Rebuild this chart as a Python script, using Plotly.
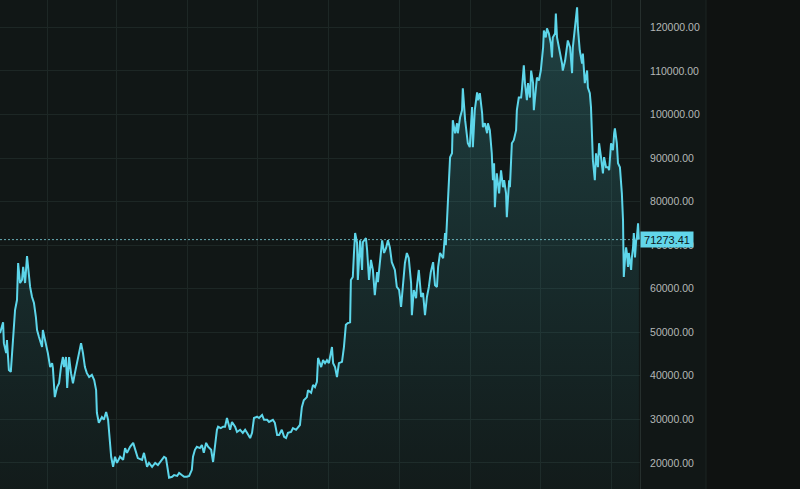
import pandas as pd
import plotly.graph_objects as go

# ---- data ----
start_date = "2021-09-01"
day_offsets = [
    0, 8, 10, 16, 18, 23, 28, 34, 39, 44,
    47, 52, 57, 60, 65, 70, 73, 78, 83, 88,
    93, 96, 101, 109, 111, 117, 122, 124, 130, 135,
    137, 142, 148, 153, 158, 163, 166, 171, 174, 179,
    184, 189, 194, 199, 205, 210, 215, 220, 225, 231,
    238, 244, 249, 251, 256, 264, 269, 275, 280, 285,
    288, 293, 298, 303, 311, 319, 324, 329, 337, 345,
    352, 357, 368, 373, 381, 386, 394, 402, 409, 420,
    425, 430, 435, 438, 446, 451, 459, 464, 471, 477,
    484, 490, 497, 500, 505, 510, 518, 523, 528, 534,
    539, 547, 552, 557, 562, 565, 572, 578, 583, 588,
    596, 601, 609, 614, 622, 629, 635, 640, 648, 653,
    658, 666, 671, 679, 684, 692, 697, 707, 712, 718,
    723, 730, 736, 741, 746, 754, 759, 767, 772, 777,
    782, 787, 795, 798, 806, 811, 816, 821, 824, 832,
    837, 842, 847, 852, 860, 863, 868, 873, 878, 886,
    891, 896, 901, 907, 909, 914, 917, 920, 925, 927,
    933, 938, 940, 948, 951, 956, 961, 966, 971, 977,
    979, 984, 990, 995, 1000, 1005, 1010, 1015, 1023, 1028,
    1034, 1039, 1044, 1049, 1054, 1059, 1065, 1067, 1072, 1078,
    1080, 1085, 1091, 1096, 1101, 1106, 1111, 1116, 1122, 1127,
    1132, 1135, 1140, 1148, 1153, 1155, 1158, 1160, 1166, 1171,
    1173, 1179, 1184, 1186, 1192, 1197, 1199, 1205, 1210, 1212,
    1217, 1223, 1225, 1230, 1236, 1238, 1243, 1249, 1251, 1256,
    1262, 1264, 1269, 1274, 1277, 1280, 1282, 1287, 1293, 1298,
    1303, 1306, 1311, 1313, 1319, 1321, 1326, 1331, 1337, 1339,
    1344, 1350, 1352, 1357, 1360, 1365, 1368, 1373, 1376, 1381,
    1383, 1388, 1391, 1396, 1401, 1407, 1409, 1414, 1417, 1422,
    1427, 1430, 1432, 1438, 1440, 1443, 1445, 1451, 1456, 1458,
    1464, 1469, 1471, 1477, 1482, 1484, 1490, 1495, 1497, 1502,
    1508, 1510, 1515, 1521, 1523, 1528, 1531, 1534, 1536, 1541,
    1544, 1549, 1552, 1557, 1562, 1565, 1570, 1575, 1578, 1583,
    1588, 1591, 1593, 1598, 1601, 1606, 1611, 1614, 1616, 1619,
    1622, 1624, 1627, 1629, 1635, 1637, 1640, 1642, 1645, 1648,
    1650, 1653, 1655,
]
prices = [
    49800, 52300, 47500, 45200, 48200, 41300, 40900, 48200, 55100, 57400,
    65900, 61300, 62000, 65000, 61300, 67500, 65000, 60400, 58100, 56700,
    53500, 50500, 48900, 46600, 50500, 48200, 46600, 45200, 42000, 42900,
    41800, 35100, 37400, 38300, 42000, 44300, 42000, 44300, 37200, 44300,
    40600, 38300, 40600, 42900, 45200, 47500, 45200, 42000, 40600, 39700,
    40200, 39000, 36700, 31500, 29200, 30500, 29900, 31700, 29900, 25300,
    21400, 19100, 21400, 20000, 21400, 20700, 23400, 22300, 23700, 24600,
    22300, 21100, 20700, 22300, 19100, 20000, 19100, 20000, 19500, 20700,
    21400, 21100, 17700, 16600, 16800, 17200, 17000, 17700, 17200, 16800,
    16800, 17000, 18400, 21400, 23000, 23700, 23400, 24100, 22300, 24600,
    23700, 23000, 20200, 23700, 27600, 28300, 28000, 28300, 28300, 30300,
    27600, 29400, 28300, 27100, 27600, 26900, 27600, 26900, 25700, 26900,
    30300, 30600, 30300, 31000, 29900, 29900, 29400, 29900, 29200, 26400,
    26400, 27600, 26000, 25700, 26900, 27100, 28000, 27600, 28300, 28700,
    32800, 34400, 35100, 36700, 36100, 37900, 37400, 38600, 44100, 42000,
    43600, 42900, 43600, 42900, 46600, 42900, 42000, 39700, 42900, 43200,
    46600, 51700, 52100, 52300, 62000, 62700, 68200, 72800, 70500, 62000,
    71100, 64300, 70700, 71600, 68900, 62000, 66600, 64300, 58500, 63800,
    61500, 66600, 71100, 68200, 69300, 71100, 69500, 66100, 64300, 60400,
    59700, 55800, 61300, 65900, 68200, 67000, 61300, 53900, 59700, 57800,
    60400, 64300, 58100, 59000, 53900, 58100, 60400, 63800, 66100, 60800,
    60400, 65000, 68200, 67000, 72800, 70000, 75700, 79200, 90200, 91100,
    98700, 95700, 98000, 95700, 99400, 101000, 106000, 98700, 95700, 93400,
    92500, 101700, 92500, 101000, 105100, 103300, 104900, 100300, 97100, 98000,
    95700, 98000, 96400, 91100, 84900, 88800, 78700, 86500, 81900, 87200,
    83300, 84900, 81900, 76400, 84900, 83300, 93400, 94100, 96400, 101000,
    103900, 103900, 105600, 111300, 107200, 103300, 107200, 103900, 110100, 107200,
    101000, 105600, 108500, 107800, 110100, 115400, 119300, 117700, 119800, 118600,
    116300, 113100, 117700, 118600, 123200, 117700, 116600, 114000, 111700, 110100,
    112400, 115400, 117000, 115400, 109500, 115400, 120000, 124600, 120000, 114700,
    111700, 114000, 107200, 110100, 106200, 104900, 101700, 94100, 89500, 84900,
    91100, 87900, 93400, 90200, 86500, 90200, 87900, 87900, 87200, 93400,
    91800, 95700, 96800, 93400, 88800, 87900, 81900, 75700, 62700, 66600,
    69500, 68200, 65000, 68200, 64300, 67200, 69500, 72800, 67200, 71100,
    71800, 75000, 71273.41,
]
last_price = prices[-1]
y_ticks = [20000, 30000, 40000, 50000, 60000, 70000, 80000,
           90000, 100000, 110000, 120000]
y_range = [14000, 126300]
x_range = ["2021-09-01", "2026-03-17"]

dates = pd.Timestamp(start_date) + pd.to_timedelta(day_offsets, unit="D")

BG = "#111716"
GRID = "#1d2725"
LINE = "#5dd6ea"

fig = go.Figure()
fig.add_trace(go.Scatter(
    x=dates, y=prices, mode="lines",
    line=dict(color=LINE, width=2),
    fill="tozeroy",
    fillgradient=dict(
        type="vertical",
        colorscale=[[0, "rgba(60,165,175,0.03)"], [1, "rgba(75,185,195,0.26)"]],
        start=y_range[0], stop=125000,
    ),
    hoverinfo="skip", showlegend=False,
))

fig.update_layout(
    width=800, height=489,
    margin=dict(l=0, r=160, t=0, b=0),
    paper_bgcolor=BG, plot_bgcolor=BG,
    showlegend=False,
    xaxis=dict(
        type="date", range=x_range,
        tick0="2022-01-01", dtick="M6",
        showgrid=True, gridcolor=GRID, gridwidth=1,
        showticklabels=False, zeroline=False, showline=False, ticks="",
        fixedrange=True,
    ),
    yaxis=dict(
        side="right", range=y_range,
        tickmode="array", tickvals=y_ticks,
        ticktext=[f"{v:.2f}" for v in y_ticks],
        showgrid=True, gridcolor=GRID, gridwidth=1,
        zeroline=False, showline=True, linecolor="#262f2d", linewidth=1,
        ticks="", ticklabelstandoff=7,
        tickfont=dict(family="Liberation Sans, Arial, sans-serif",
                      size=10.5, color="#b4b8b7"),
        fixedrange=True,
    ),
    shapes=[
        dict(type="rect", xref="paper", yref="paper",
             x0=706 / 640, x1=1.25, y0=0, y1=1,
             fillcolor="#0f1211", line=dict(width=0), layer="below"),
        dict(type="line", xref="paper", yref="paper",
             x0=706 / 640, x1=706 / 640, y0=0, y1=1,
             line=dict(color="#1d2422", width=1), layer="below"),
        dict(type="line", xref="paper", yref="y",
             x0=0, x1=1, y0=last_price, y1=last_price,
             line=dict(color="rgba(120,200,210,0.85)", width=1, dash="2px,2px")),
    ],
    annotations=[
        dict(xref="paper", yref="y", x=1, y=last_price,
             xanchor="left", yanchor="middle", xshift=0,
             text=f"{last_price:.2f}", showarrow=False,
             bgcolor="#62d6ea", borderpad=1, width=50, height=13,
             font=dict(family="Liberation Sans, Arial, sans-serif",
                       size=11, color="#0c171a")),
    ],
)

fig.write_html(
    "out.html",
    config={"displayModeBar": False},
    post_script="document.body.style.margin='0';document.body.style.background='#111716';",
)
